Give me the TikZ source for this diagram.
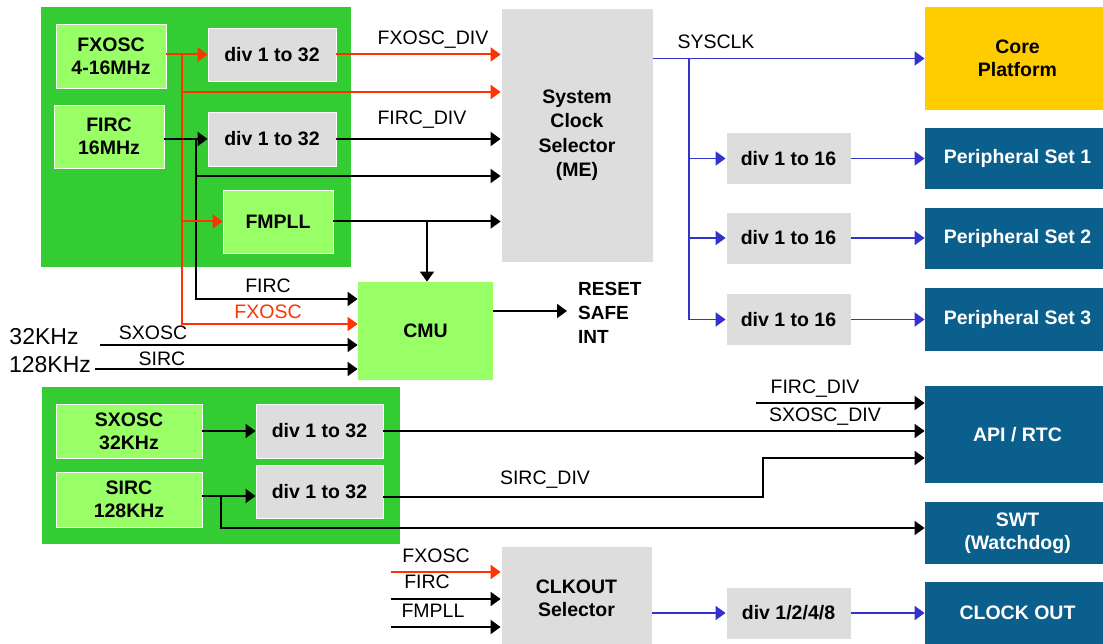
\documentclass[tikz,border=0pt]{standalone}
\usepackage{fontspec}
\setmainfont{Liberation Sans}
\usetikzlibrary{arrows.meta,calc}
\definecolor{grp}{HTML}{33CC33}
\definecolor{lgreen}{HTML}{99FF66}
\definecolor{gbox}{HTML}{DDDDDD}
\definecolor{ored}{HTML}{FF3300}
\definecolor{oblue}{HTML}{3333CC}
\definecolor{teal}{HTML}{0B5F8C}
\definecolor{gold}{HTML}{FFCC00}
\begin{document}
\begin{tikzpicture}[x=1pt,y=-1pt,
  box/.style={rectangle, inner sep=0pt, align=center, font=\bfseries\fontsize{19.5}{23}\selectfont, draw=white, line width=0.8pt},
  lg/.style={box, fill=lgreen},
  gy/.style={box, fill=gbox},
  tl/.style={box, fill=teal, text=white, draw=none},
  grpbox/.style={rectangle, fill=grp, inner sep=0pt},
  ln/.style={line width=2pt},
  wire/.style={ln, -{Triangle[length=10pt,width=14pt]}},
  rw/.style={wire, draw=ored},
  rl/.style={ln, draw=ored},
  bw/.style={wire, draw=oblue, line width=1.8pt},
  lbl/.style={font=\fontsize{19.5}{22}\selectfont, inner sep=0pt}
]
\useasboundingbox (0,0) rectangle (1103,644);
\clip (0,0) rectangle (1103,644);
% groups
\node[grpbox, minimum width=310pt, minimum height=260pt] (g1) at (196,137) {};
\node[grpbox, minimum width=358pt, minimum height=157pt] (g2) at (221,465.5) {};
% top group
\node[lg, minimum width=110pt, minimum height=64pt] (fxosc) at (111,56) {FXOSC\\4-16MHz};
\node[lg, minimum width=110pt, minimum height=63pt] (firc) at (109,136.5) {FIRC\\16MHz};
\node[gy, minimum width=128pt, minimum height=53pt] (div1) at (272,54.5) {div 1 to 32};
\node[gy, minimum width=128pt, minimum height=54pt] (div2) at (272,139) {div 1 to 32};
\node[lg, minimum width=110pt, minimum height=63pt] (fmpll) at (278,221.5) {FMPLL};
\node[gy, minimum width=152pt, minimum height=254pt, font=\bfseries\fontsize{19.5}{24.5}\selectfont] (scs) at (577,135) {System\\Clock\\Selector\\(ME)};
\node[lg, minimum width=135pt, minimum height=98pt, draw=none] (cmu) at (425.5,331) {CMU};
% right side
\node[box, fill=gold, draw=none, minimum width=185pt, minimum height=103pt] (core) at (1017.5,58.5) {Core\\Platform};
\node[gy, minimum width=125pt, minimum height=52pt] (d16a) at (788.5,158.5) {div 1 to 16};
\node[gy, minimum width=125pt, minimum height=52pt] (d16b) at (788.5,238) {div 1 to 16};
\node[gy, minimum width=125pt, minimum height=52pt] (d16c) at (788.5,319.5) {div 1 to 16};
\node[tl, minimum width=185pt, minimum height=61pt] (p1) at (1017.5,158.5) {Peripheral Set 1};
\node[tl, minimum width=185pt, minimum height=61pt] (p2) at (1017.5,238.5) {Peripheral Set 2};
\node[tl, minimum width=185pt, minimum height=62pt] (p3) at (1017.5,319.5) {Peripheral Set 3};
% bottom group
\node[lg, minimum width=146pt, minimum height=54pt] (sxosc) at (129,431) {SXOSC\\32KHz};
\node[lg, minimum width=146pt, minimum height=55pt] (sirc) at (129,499.5) {SIRC\\128KHz};
\node[gy, minimum width=127pt, minimum height=54pt] (div3) at (319.5,431) {div 1 to 32};
\node[gy, minimum width=127pt, minimum height=53pt] (div4) at (319.5,491.5) {div 1 to 32};
\node[tl, minimum width=185pt, minimum height=97pt] (api) at (1017.5,434.5) {API / RTC};
\node[tl, minimum width=185pt, minimum height=62pt] (swt) at (1017.5,533) {SWT\\(Watchdog)};
\node[tl, minimum width=185pt, minimum height=62pt] (clkout) at (1017.5,613) {CLOCK OUT};
\node[gy, minimum width=151pt, minimum height=104pt] (clksel) at (576.5,598) {CLKOUT\\Selector};
\node[gy, minimum width=125pt, minimum height=52pt] (d1248) at (788.5,613) {div 1/2/4/8};

% red FXOSC wiring
\coordinate (rj) at (182,54.5);
\coordinate (r2) at (182,92);
\coordinate (rcmu) at (182,324);
\draw[rw] (fxosc.east|-div1.west) -- (div1.west);
\draw[rw] (div1.east) -- (scs.west|-div1.east);
\draw[rw] (rj) -- (rcmu) -- (cmu.west|-rcmu);
\draw[rw] (r2) -- (scs.west|-r2);
% black FIRC wiring
\coordinate (bj) at (196,139);
\coordinate (b2) at (196,176);
\coordinate (bcmu) at (196,299);
\draw[wire] (firc.east|-div2.west) -- (div2.west);
\draw[wire] (div2.east) -- (scs.west|-div2.east);
\draw[wire] (bj) -- (bcmu) -- (cmu.west|-bcmu);
\draw[wire] (b2) -- (scs.west|-b2);
\draw[rw] (rj|-fmpll.west) -- (fmpll.west);
% FMPLL
\coordinate (fj) at (427,221.5);
\draw[wire] (fmpll.east) -- (scs.west|-fmpll.east);
\draw[wire] (fj) -- (fj|-cmu.north);
% CMU inputs
\coordinate (sx) at (100,345);
\coordinate (si) at (95,369);
\draw[wire] (sx) -- (cmu.west|-sx);
\draw[wire] (si) -- (cmu.west|-si);
\coordinate (cmo) at (567,311);
\draw[wire] (cmu.east|-cmo) -- (cmo);
% labels top
\node[lbl] (lfxd) at (433,40) {FXOSC\_DIV};
\node[lbl] (lfid) at (422,120) {FIRC\_DIV};
\node[lbl] (lfirc) at (268,286) {FIRC};
\node[lbl, text=ored] (lfxo) at (268,312) {FXOSC};
\node[lbl] (lsx) at (153,333) {SXOSC};
\node[lbl] (lsi) at (162,359) {SIRC};
\node[font=\fontsize{23}{26}\selectfont, inner sep=0pt] (k32) at (44,337) {32KHz};
\node[font=\fontsize{23}{26}\selectfont, inner sep=0pt] (k128) at (50,365) {128KHz};
\node[anchor=west, inner sep=0pt, align=left, font=\bfseries\fontsize{19}{24}\selectfont] (rsi) at (578,313) {RESET\\SAFE\\INT};
\node[lbl] (lsys) at (716,42) {SYSCLK};
% SYSCLK
\coordinate (bv) at (689,58.5);
\draw[bw] (scs.east|-core.west) -- (core.west);
\draw[bw] (bv) |- (d16c.west);
\draw[bw] (bv|-d16a.west) -- (d16a.west);
\draw[bw] (bv|-d16b.west) -- (d16b.west);
\draw[bw] (d16a.east) -- (p1.west|-d16a.east);
\draw[bw] (d16b.east) -- (p2.west|-d16b.east);
\draw[bw] (d16c.east) -- (p3.west|-d16c.east);
% bottom wiring
\coordinate (sj) at (221,496);
\coordinate (sjl) at (221,528);
\draw[wire] (sxosc.east) -- (div3.west);
\draw[wire] (sirc.east|-sj) -- (div4.west|-sj);
\draw[wire] (sj) -- (sjl) -- (swt.west|-sjl);
\draw[wire] (div3.east) -- (api.west|-div3.east);
\coordinate (sk) at (763,497);
\coordinate (sk2) at (763,458);
\draw[wire] (div4.east|-sk) -- (sk) -- (sk2) -- (api.west|-sk2);
\coordinate (fd) at (756,403);
\draw[wire] (fd) -- (api.west|-fd);
\node[lbl] (lfd2) at (815,389) {FIRC\_DIV};
\node[lbl] (lsxd) at (825,417) {SXOSC\_DIV};
\node[lbl] (lsid) at (545,480) {SIRC\_DIV};
% CLKOUT
\coordinate (ci1) at (391,572);
\coordinate (ci2) at (391,599);
\coordinate (ci3) at (391,627);
\draw[rw] (ci1) -- (clksel.west|-ci1);
\draw[wire] (ci2) -- (clksel.west|-ci2);
\draw[wire] (ci3) -- (clksel.west|-ci3);
\node[lbl] (lc1) at (436,556) {FXOSC};
\node[lbl] (lc2) at (427,582) {FIRC};
\node[lbl] (lc3) at (433,611) {FMPLL};
\draw[bw] (clksel.east|-d1248.west) -- (d1248.west);
\draw[bw] (d1248.east) -- (clkout.west|-d1248.east);
\end{tikzpicture}
\end{document}
